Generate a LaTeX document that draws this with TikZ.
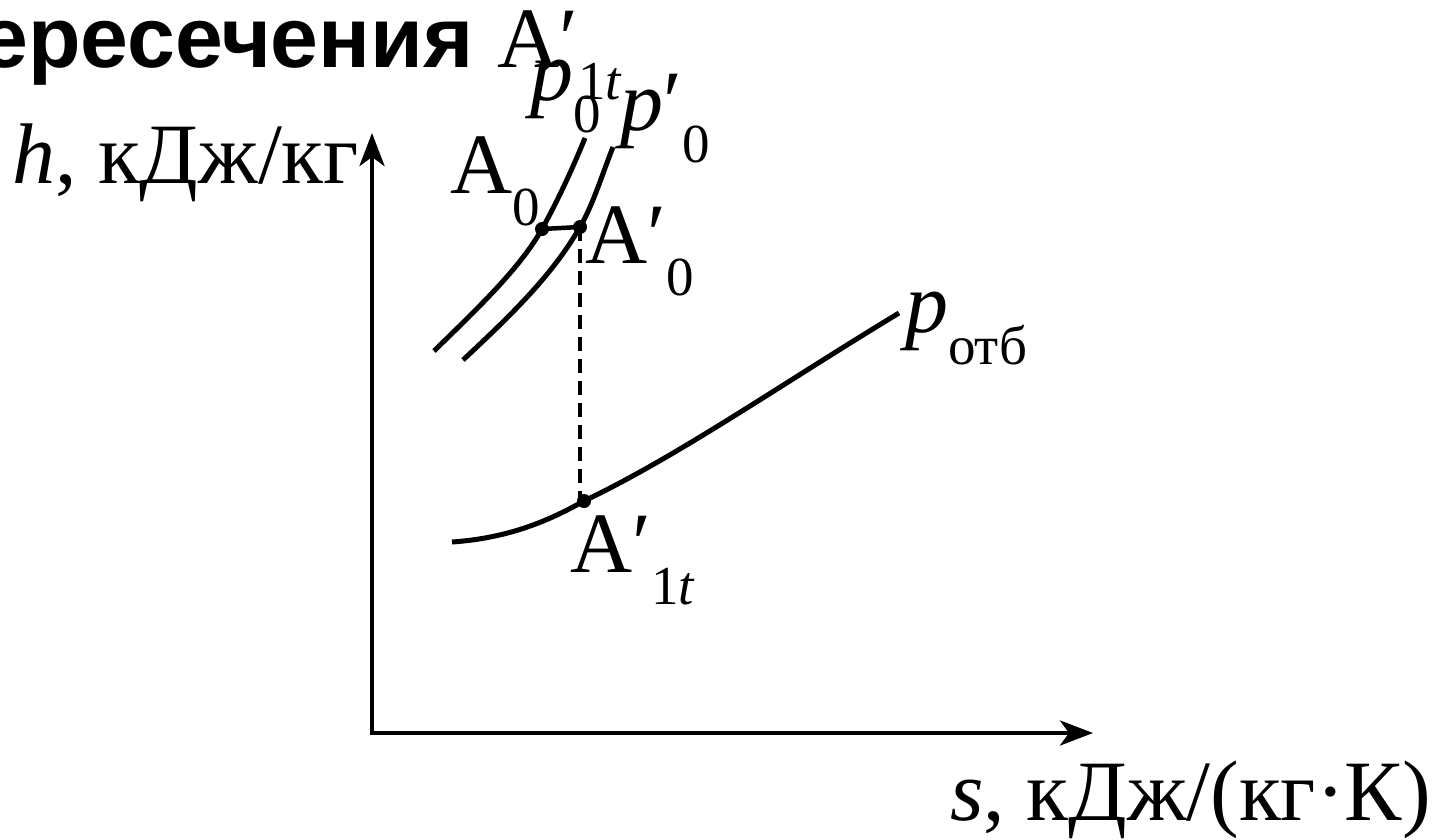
\documentclass[tikz,border=0pt]{standalone}
\usepackage{fontspec}
\setmainfont{Liberation Serif}
\newfontfamily\titlefont{Liberation Sans}
\usetikzlibrary{arrows.meta}
\newcommand\sbs[1]{\raisebox{-32pt}{\fontsize{55}{55}\selectfont #1}}
\tikzset{
  lab/.style={inner sep=0pt, anchor=base west, font=\fontsize{86}{86}\selectfont},
  curve/.style={line width=5pt},
  axis/.style={line width=4.5pt, line join=miter},
  dot/.style={circle, fill=black, inner sep=0pt, minimum size=14pt},
  axtip/.tip={Stealth[length=33pt, width=25pt, inset=9pt]}
}
\begin{document}
\begin{tikzpicture}[x=1pt, y=-1pt]
\useasboundingbox (0,0) rectangle (1441,839);
% axes
\coordinate (O) at (372,733);
\coordinate (ytip) at (372,133);
\coordinate (xtip) at (1093,733);
\draw[axis, axtip-axtip] (ytip) -- (O) -- (xtip);
% isobars p0 and p0'
\coordinate (A0) at (542,229);
\coordinate (A0p) at (580,227);
\draw[curve] (434,351) .. controls (480,306) and (520,268) .. (A0)
  .. controls (557,202) and (572,170) .. (585,138);
\draw[curve] (463,360) .. controls (510,316) and (552,276) .. (A0p)
  .. controls (593,205) and (603,172) .. (613,147);
\draw[line width=4.5pt] (A0) -- (A0p);
% p_otb isobar
\coordinate (A1) at (584,501);
\draw[curve] (452,542) .. controls (510,538) and (550,520) .. (A1)
  .. controls (680,455) and (780,385) .. (899,313);
\draw[line width=3.5pt, dash pattern=on 14pt off 8pt] (A0p) -- (A0p |- A1);
\node[dot] (dA0) at (A0) {};
\node[dot] (dA0p) at (A0p) {};
\node[dot] (dA1) at (A1) {};
% title fragment
\node[inner sep=0pt, anchor=base east, font=\titlefont\bfseries\fontsize{86}{86}\selectfont] (title) at (474,67) {ересечения};
\node[lab] (tA) at (497,67) {A′\sbs{1\textit{t}}};
% labels
\node[lab] (lp0) at (530,100) {\textit{p}\sbs{0}};
\node[lab] (lp0p) at (620,130) {\textit{p}′\sbs{0}};
\node[lab] (lA0) at (450,193) {A\sbs{0}};
\node[lab] (lA0p) at (585,263) {A′\sbs{0}};
\node[lab] (lA1) at (570,572) {A′\sbs{1\textit{t}}};
\node[lab] (lpotb) at (905,332) {\textit{p}\sbs{отб}};
\node[lab] (lh) at (12,183) {\textit{h}, кДж/кг};
\node[lab] (ls) at (950,820) {\textit{s}, кДж/(кг·К)};
\end{tikzpicture}
\end{document}
